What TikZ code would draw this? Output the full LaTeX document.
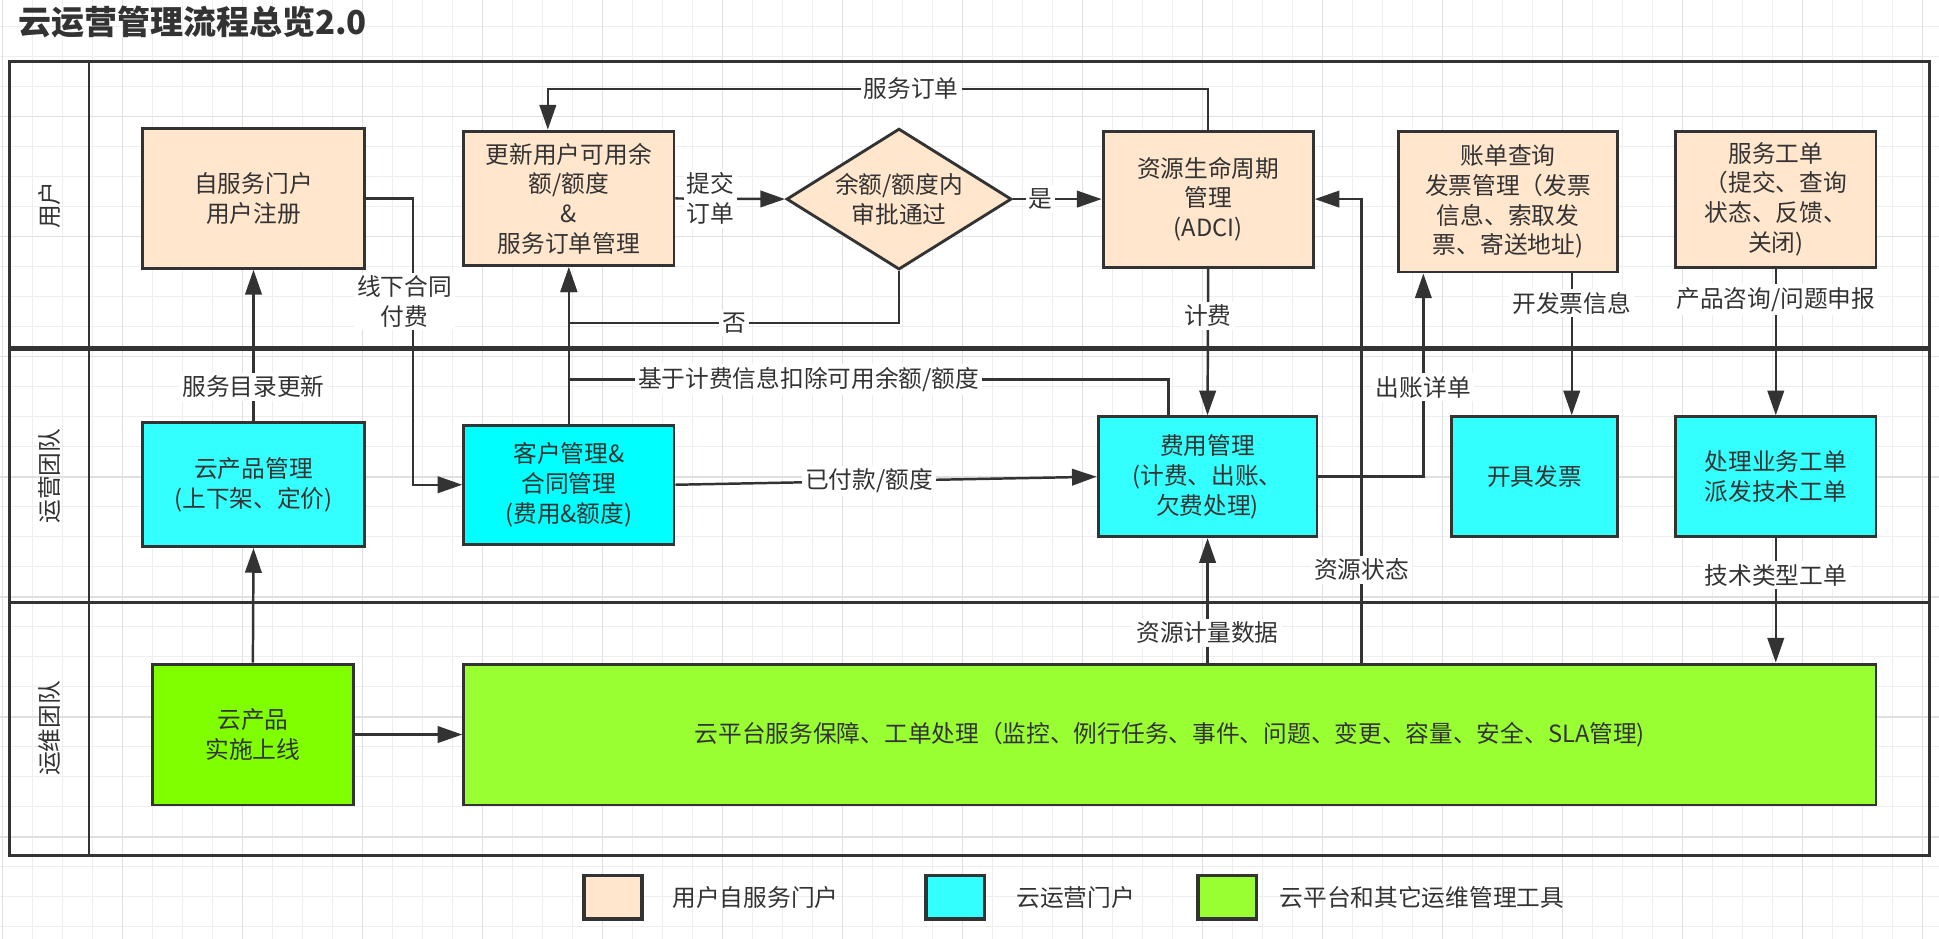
\documentclass[tikz,border=0pt]{standalone}
\usepackage{fontspec}
\setmainfont{Noto Sans CJK SC}
\usetikzlibrary{arrows.meta,shapes.geometric,calc}

\definecolor{ink}{HTML}{333333}
\definecolor{fillpeach}{HTML}{FFE6CC}
\definecolor{fillaqua}{HTML}{33FFFF}
\definecolor{fillcyan}{HTML}{00FFFF}
\definecolor{fillgreen}{HTML}{99FF33}
\definecolor{fillchart}{HTML}{80FF00}
\definecolor{gridlo}{HTML}{EEEEEE}
\definecolor{gridhi}{HTML}{E0E0E0}

\tikzset{
  box/.style={draw=ink, line width=1.4pt, align=center, text=ink, inner sep=2pt},
  userbox/.style={box, fill=fillpeach},
  opsbox/.style={box, fill=fillaqua},
  toolbox/.style={box, fill=fillgreen},
  flow/.style={draw=ink, line width=1.2pt, -{Triangle[length=12pt,width=8pt]}},
  link/.style={draw=ink, line width=1.2pt},
  lbl/.style={fill=white, text=ink, inner sep=1.5pt, align=center},
  pool/.style={draw=ink, line width=1.4pt},
  gridline/.style={draw=gridlo, line width=0.5pt},
  gridmajor/.style={draw=gridhi, line width=0.5pt},
  keybox/.style={draw=ink, line width=1.8pt, minimum width=28.2pt, minimum height=21pt, inner sep=0pt},
}

\begin{document}
\begin{tikzpicture}[x=0.6pt, y=-0.6pt, font=\fontsize{11.5}{14.4}\selectfont, text=ink]
  \useasboundingbox[fill=white] (0,0) rectangle (1568,759);
  % background grid
  \foreach \i in {0,...,64} {\draw[gridline] (1.8+24.26*\i,0) -- (1.8+24.26*\i,759);}
  \foreach \j in {0,...,31} {\draw[gridline] (0,21.8+24.26*\j) -- (1568,21.8+24.26*\j);}
  \foreach \i in {0,...,16} {\draw[gridmajor] (1.8+97.04*\i,0) -- (1.8+97.04*\i,759);}
  \foreach \j in {0,...,7} {\draw[gridmajor] (0,94.6+97.04*\j) -- (1568,94.6+97.04*\j);}

  \node[anchor=west, font=\fontsize{16}{19}\selectfont\bfseries] (title) at (9,18) {云运营管理流程总览2.0};

  % swimlanes
  \draw[pool] (7.6,50) rectangle (1560,691.5);
  \draw[pool] (72,50) -- (72,691.5);
  \draw[pool, line width=2.6pt] (7.6,281.7) -- (1560,281.7);
  \draw[pool] (7.6,487.3) -- (1560,487.3);
  \node[rotate=90] (laneuser) at (40,166) {用户};
  \node[rotate=90] (laneops) at (40,385) {运营团队};
  \node[rotate=90] (lanemaint) at (40,589) {运维团队};

  % user lane
  \node[userbox, minimum width=108pt, minimum height=67.8pt] (reg) at (205,160.5) {自服务门户\\用户注册};
  \node[userbox, minimum width=102pt, minimum height=65.4pt] (upd) at (460,160.5) {更新用户可用余\\额/额度\\\&\\服务订单管理};
  \node[userbox, diamond, minimum width=109.2pt, minimum height=68.4pt, inner sep=0pt] (check) at (727,161) {};
  \node[align=center] (checktext) at (check.center) {余额/额度内\\审批通过};
  \node[userbox, minimum width=102pt, minimum height=66pt] (adci) at (977,161) {资源生命周期\\管理\\(ADCI)};
  \node[userbox, minimum width=106.2pt, minimum height=68.4pt] (bill) at (1219.5,163) {账单查询\\发票管理（发票\\信息、索取发\\票、寄送地址)};
  \node[userbox, minimum width=97.2pt, minimum height=66pt] (tkt) at (1436,161) {服务工单\\（提交、查询\\状态、反馈、\\关闭)};

  % ops lane
  \node[opsbox, minimum width=108pt, minimum height=60pt] (cat) at (205,392) {云产品管理\\(上下架、定价)};
  \node[opsbox, fill=fillcyan, minimum width=102pt, minimum height=57.6pt] (cust) at (460,392) {客户管理\&\\合同管理\\(费用\&额度)};
  \node[opsbox, minimum width=106.2pt, minimum height=58.2pt] (fee) at (976.5,385.5) {费用管理\\(计费、出账、\\欠费处理)};
  \node[opsbox, minimum width=80.4pt, minimum height=58.2pt] (inv) at (1241,385.5) {开具发票};
  \node[opsbox, minimum width=97.2pt, minimum height=58.2pt] (proc) at (1436,385.5) {处理业务工单\\派发技术工单};

  % maintenance lane
  \node[toolbox, fill=fillchart, minimum width=97.8pt, minimum height=68.4pt] (impl) at (204.5,594) {云产品\\实施上线};
  \node[toolbox, minimum width=685.2pt, minimum height=68.4pt] (plat) at (946,594) {云平台服务保障、工单处理（监控、例行任务、事件、问题、变更、容量、安全、SLA管理)};

  % connectors
  \coordinate (deductjoin) at (460,307);
  \coordinate (billout) at ([xshift=30.9pt]bill.south);
  \draw[flow] (reg.east) -| ([xshift=-24pt]cust.west) node[lbl, pos=0.68, xshift=-4pt] {线下合同\\付费} -- (cust.west);
  \draw[flow] (cat.north) -- node[lbl, pos=0.23] {服务目录更新} (reg.south);
  \draw[flow] (impl.north) -- (cat.south);
  \draw[flow] (impl.east) -- (plat.west);
  \draw[flow] (cust.north) -- (upd.south);
  \draw[link] ([xshift=-18.9pt]fee.north) |- (deductjoin) node[lbl, pos=0.8] {基于计费信息扣除可用余额/额度};
  \draw[flow] (check.south) |- ([yshift=-27pt]upd.south) node[lbl, pos=0.75] {否} -- (upd.south);
  \draw[flow] (upd.east) -- node[lbl, pos=0.32] {提交\\订单} (check.west);
  \draw[flow] (check.east) -- node[lbl, pos=0.31] {是} (adci.west);
  \draw[flow] (adci.north) |- ([xshift=-10.2pt, yshift=19.8pt]upd.north) node[lbl, pos=0.725] {服务订单} -- ([xshift=-10.2pt]upd.north);
  \draw[flow] (adci.south) -- node[lbl, pos=0.32] {计费} (fee.north);
  \draw[flow] (cust.east) -- node[lbl, pos=0.46] {已付款/额度} (fee.west);
  \draw[flow] (fee.east) -| ([xshift=-41.1pt]bill.south) node[lbl, pos=0.72] {出账详单};
  \draw[flow] ([xshift=93pt]plat.north) |- node[lbl, pos=0.1] {资源状态} (adci.east);
  \draw[flow] (plat.north -| fee.south) -- node[lbl, pos=0.24] {资源计量数据} (fee.south);
  \draw[flow] (billout) -- node[lbl, pos=0.21] {开发票信息} (billout |- inv.north);
  \draw[flow] (tkt.south) -- node[lbl, pos=0.21] {产品咨询/问题申报} (proc.north);
  \draw[flow] (proc.south) -- node[lbl, pos=0.3] {技术类型工单} (proc.south |- plat.north);

  % legend
  \node[keybox, fill=fillpeach] (keyuser) at (495.5,725.5) {};
  \node[anchor=west] (keyusertext) at (538,725.5) {用户自服务门户};
  \node[keybox, fill=fillaqua] (keyops) at (772.5,725.5) {};
  \node[anchor=west] (keyopstext) at (816,725.5) {云运营门户};
  \node[keybox, fill=fillgreen] (keytool) at (992.5,725.5) {};
  \node[anchor=west] (keytooltext) at (1029,725.5) {云平台和其它运维管理工具};
\end{tikzpicture}
\end{document}
